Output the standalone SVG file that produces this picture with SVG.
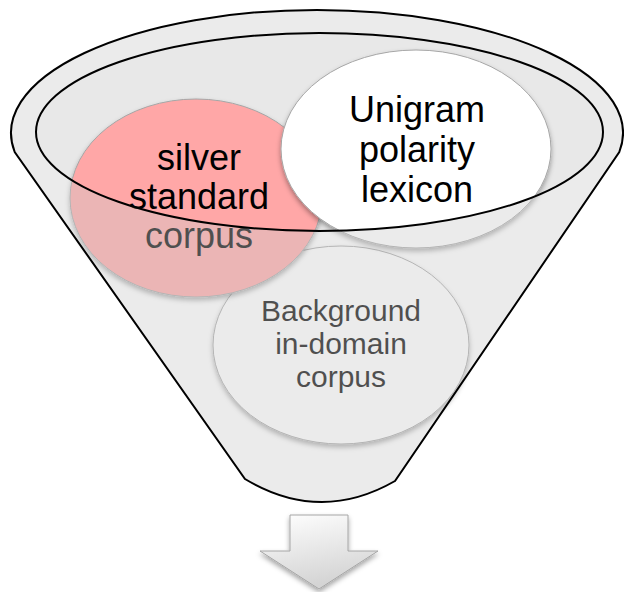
<svg xmlns="http://www.w3.org/2000/svg" width="624" height="592" viewBox="0 0 624 592">
  <defs>
    <filter id="soft-shadow" x="-20%" y="-20%" width="140%" height="150%">
      <feDropShadow dx="0" dy="3" stdDeviation="2.5" flood-color="#000000" flood-opacity="0.35"/>
    </filter>
    <linearGradient id="arrow-fill" x1="0" y1="0" x2="0.3" y2="1">
      <stop offset="0" stop-color="#FFFFFF"/>
      <stop offset="1" stop-color="#D4D4D4"/>
    </linearGradient>
    <style>
      .label { font-family: "Liberation Sans", Arial, sans-serif; text-anchor: middle; fill: #000000; }
      .big { font-size: 36px; }
      .small { font-size: 30px; }
      .bubble { stroke: #A6A6A6; stroke-width: 1; filter: url(#soft-shadow); }
      .outline { fill: none; stroke: #000000; stroke-width: 2; }
    </style>
  </defs>

  <!-- funnel opening (back face) -->
  <g id="funnel-back">
    <ellipse cx="319.5" cy="132" rx="283.5" ry="99" fill="#E8E8E8"/>
  </g>

  <!-- items inside the funnel -->
  <g id="node-background">
    <ellipse class="bubble" cx="341" cy="345" rx="128" ry="99" fill="#FFFFFF"/>
    <text class="label small" x="341" y="321">Background</text>
    <text class="label small" x="341" y="354">in-domain</text>
    <text class="label small" x="341" y="387">corpus</text>
  </g>

  <g id="node-silver">
    <ellipse class="bubble" cx="196" cy="198" rx="126" ry="99" fill="#FFA7A7"/>
    <text class="label big" x="199" y="170">silver</text>
    <text class="label big" x="199" y="209">standard</text>
    <text class="label big" x="199" y="248">corpus</text>
  </g>

  <g id="node-unigram">
    <ellipse class="bubble" cx="416" cy="149" rx="135" ry="99" fill="#FFFFFF"/>
    <text class="label big" x="417" y="122">Unigram</text>
    <text class="label big" x="417" y="162">polarity</text>
    <text class="label big" x="417" y="202">lexicon</text>
  </g>

  <!-- translucent funnel body in front of the items -->
  <g id="funnel-front">
    <path fill="#CCCCCC" fill-opacity="0.39" fill-rule="evenodd"
          d="M14.7,152 A306,123 0 1 1 619.3,152 L395,481 Q320,524 245,479 Z
             M36,132 A283.5,99 0 1 0 603,132 A283.5,99 0 1 0 36,132 Z"/>
    <path class="outline" d="M14.7,152 A306,123 0 1 1 619.3,152 L395,481 Q320,524 245,479 Z"/>
    <ellipse class="outline" cx="319.5" cy="132" rx="283.5" ry="99"/>
  </g>

  <!-- output arrow -->
  <g id="connectors">
    <polygon points="290,515 348,515 348,551 378,551 319,589 260,551 290,551"
             fill="url(#arrow-fill)" stroke="#A6A6A6" stroke-width="1" filter="url(#soft-shadow)"/>
  </g>
</svg>
